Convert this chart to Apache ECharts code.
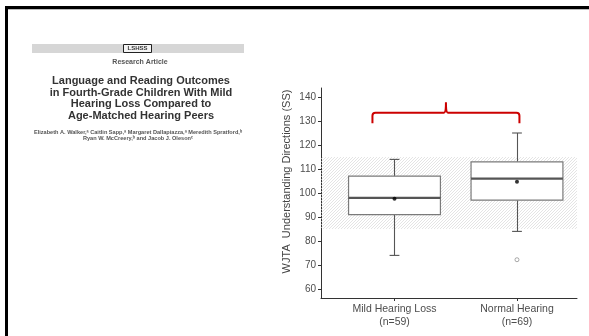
<!DOCTYPE html>
<html>
<head>
<meta charset="utf-8">
<script src="https://cdn.jsdelivr.net/npm/echarts@6/dist/echarts.min.js"></script>
<style>
html,body{margin:0;padding:0;background:#fff;}
#main{width:589px;height:336px;}
</style>
</head>
<body>
<div id="main"></div>
<script>
// ---- data ----
const groups = ['Mild Hearing Loss', 'Normal Hearing'];
const groupN = ['(n=59)', '(n=69)'];
const groupX = [1, 2];
const whiskerLow = [74, 84];
const q1 = [91, 97];
const median = [98, 106];
const q3 = [107, 113];
const whiskerHigh = [114, 125];
const means = [97.6, 104.7];
const outliersX = [2];
const outliersY = [72.2];
const bandRange = [85, 115];
const bracketX = [0.82, 1.42, 2.02];
const bracketY = [129.1, 133.4, 137.8];
const yTicks = [60, 70, 80, 90, 100, 110, 120, 130, 140];
const yTitle = 'WJTA  Understanding Directions (SS)';
const titleLines = ['Language and Reading Outcomes', 'in Fourth-Grade Children With Mild', 'Hearing Loss Compared to', 'Age-Matched Hearing Peers'];
const authorLines = ['Elizabeth A. Walker,\u1d43 Caitlin Sapp,\u1d43 Margaret Dallapiazza,\u1d43 Meredith Spratford,\u1d47', 'Ryan W. McCreery,\u1d47 and Jacob J. Oleson\u1d9c'];

// ---- hatch pattern ----
const T = 3;
const pc = document.createElement('canvas');
pc.width = T; pc.height = T;
const ctx = pc.getContext('2d');
ctx.strokeStyle = '#d9d9d9';
ctx.lineWidth = 0.7;
ctx.beginPath();
ctx.moveTo(0, T); ctx.lineTo(T, 0);
ctx.moveTo(-1, 1); ctx.lineTo(1, -1);
ctx.moveTo(T - 1, T + 1); ctx.lineTo(T + 1, T - 1);
ctx.stroke();

const XMIN = 0.4, XMAX = 2.49, YMIN = 56.25, YMAX = 143.75;
const FONT = '"Liberation Sans", Arial, sans-serif';

const boxData = groupX.map((x, i) => [x, whiskerLow[i], q1[i], median[i], q3[i], whiskerHigh[i]]);
const meanData = groupX.map((x, i) => [x, means[i]]);
const outlierData = outliersX.map((x, i) => [x, outliersY[i]]);
const labelMap = {};
groupX.forEach((x, i) => { labelMap[x] = groups[i] + '\n' + groupN[i]; });

const chart = echarts.init(document.getElementById('main'), null, {renderer: 'canvas'});

const graphics = [
  {type: 'rect', shape: {x: 5, y: 6, width: 584, height: 3}, style: {fill: '#000'}},
  {type: 'rect', shape: {x: 5, y: 9, width: 584, height: 1}, style: {fill: '#bbb'}},
  {type: 'rect', shape: {x: 5, y: 6, width: 3, height: 330}, style: {fill: '#000'}},
  {type: 'rect', shape: {x: 32, y: 44, width: 212, height: 9}, style: {fill: '#d6d6d6'}},
  {type: 'rect', shape: {x: 123.5, y: 44.5, width: 28, height: 8}, style: {fill: '#f4f4f4', stroke: '#222', lineWidth: 1}},
  {type: 'text', x: 137.5, y: 48.8, style: {text: 'LSHSS', font: 'bold 6px ' + FONT, fill: '#333', align: 'center', verticalAlign: 'middle'}},
  {type: 'text', x: 140, y: 62, style: {text: 'Research Article', font: 'bold 7px ' + FONT, fill: '#555', align: 'center', verticalAlign: 'middle'}},
  {type: 'text', x: 287, y: 181.5, rotation: Math.PI / 2,
    style: {text: yTitle, font: '11px ' + FONT, fill: '#444', align: 'center', verticalAlign: 'middle'}}
];
titleLines.forEach((t, i) => {
  graphics.push({type: 'text', x: 141, y: 81 + i * 11.7, style: {text: t, font: 'bold 11px ' + FONT, fill: '#333', align: 'center', verticalAlign: 'middle'}});
});
authorLines.forEach((t, i) => {
  graphics.push({type: 'text', x: 138, y: 132.3 + i * 6.5, style: {text: t, font: 'bold 5.6px ' + FONT, fill: '#555', align: 'center', verticalAlign: 'middle'}});
});

const option = {
  animation: false,
  backgroundColor: '#fff',
  graphic: graphics,
  grid: {left: 321, top: 88, width: 256, height: 210, containLabel: false},
  xAxis: {
    type: 'value', min: XMIN, max: XMAX,
    splitLine: {show: false},
    axisLine: {show: true, lineStyle: {color: '#333', width: 1}},
    axisTick: {show: true, length: 3, customValues: groupX, lineStyle: {color: '#333'}},
    axisLabel: {
      show: true, customValues: groupX, margin: 5,
      formatter: v => labelMap[v] || '',
      color: '#4d4d4d', fontSize: 10.5, lineHeight: 13, fontFamily: FONT
    }
  },
  yAxis: {
    type: 'value', min: YMIN, max: YMAX,
    splitLine: {show: false},
    axisLine: {show: true, lineStyle: {color: '#333', width: 1}},
    axisTick: {show: true, length: 3, customValues: yTicks, lineStyle: {color: '#333'}},
    axisLabel: {show: true, customValues: yTicks, margin: 5, color: '#4d4d4d', fontSize: 10, fontFamily: FONT}
  },
  series: [
    {
      type: 'custom', name: 'band', z: 1,
      data: [[bandRange[0], bandRange[1]]],
      renderItem: (params, api) => {
        const p0 = api.coord([XMIN, api.value(1)]);
        const p1 = api.coord([XMAX, api.value(0)]);
        return {type: 'rect', shape: {x: p0[0], y: p0[1], width: p1[0] - p0[0], height: p1[1] - p0[1]},
          style: {fill: {image: pc, repeat: 'repeat'}}};
      }
    },
    {
      type: 'custom', name: 'boxes', z: 2,
      data: boxData,
      renderItem: (params, api) => {
        const x = api.value(0);
        const lo = api.coord([x, api.value(1)]);
        const b1 = api.coord([x - 0.375, api.value(2)]);
        const md = api.coord([x - 0.375, api.value(3)]);
        const b3 = api.coord([x + 0.375, api.value(4)]);
        const hi = api.coord([x, api.value(5)]);
        const c0 = api.coord([x - 0.04, 0])[0];
        const c1 = api.coord([x + 0.04, 0])[0];
        const cx = Math.round(lo[0]) + 0.5;
        const ws = {stroke: '#555', lineWidth: 1.1};
        return {type: 'group', children: [
          {type: 'line', shape: {x1: cx, y1: hi[1], x2: cx, y2: b3[1]}, style: ws},
          {type: 'line', shape: {x1: cx, y1: b1[1], x2: cx, y2: lo[1]}, style: ws},
          {type: 'line', shape: {x1: c0, y1: hi[1], x2: c1, y2: hi[1]}, style: ws},
          {type: 'line', shape: {x1: c0, y1: lo[1], x2: c1, y2: lo[1]}, style: ws},
          {type: 'rect', shape: {x: b1[0], y: b3[1], width: b3[0] - b1[0], height: b1[1] - b3[1]},
            style: {fill: '#fff', stroke: '#7a7a7a', lineWidth: 1.2}},
          {type: 'line', shape: {x1: b1[0], y1: md[1], x2: b3[0], y2: md[1]}, style: {stroke: '#555', lineWidth: 2.2}}
        ]};
      }
    },
    {
      type: 'scatter', name: 'mean', z: 3, data: meanData,
      symbol: 'circle', symbolSize: 4, itemStyle: {color: '#000'}
    },
    {
      type: 'scatter', name: 'outlier', z: 3, data: outlierData,
      symbol: 'circle', symbolSize: 4, itemStyle: {color: '#fff', borderColor: '#777', borderWidth: 0.8}
    },
    {
      type: 'custom', name: 'bracket', z: 4,
      data: [[bracketX[0], bracketX[1], bracketX[2], bracketY[0], bracketY[1], bracketY[2]]],
      renderItem: (params, api) => {
        const l = api.coord([api.value(0), api.value(3)]);
        const m = api.coord([api.value(1), api.value(4)]);
        const t = api.coord([api.value(1), api.value(5)]);
        const r = api.coord([api.value(2), api.value(3)]);
        const rad = 3;
        const y = m[1];
        const path = 'M' + l[0] + ' ' + l[1] +
          ' L' + l[0] + ' ' + (y + rad) +
          ' Q' + l[0] + ' ' + y + ' ' + (l[0] + rad) + ' ' + y +
          ' L' + (m[0] - 2) + ' ' + y +
          ' Q' + m[0] + ' ' + y + ' ' + m[0] + ' ' + t[1] +
          ' Q' + m[0] + ' ' + y + ' ' + (m[0] + 2) + ' ' + y +
          ' L' + (r[0] - rad) + ' ' + y +
          ' Q' + r[0] + ' ' + y + ' ' + r[0] + ' ' + (y + rad) +
          ' L' + r[0] + ' ' + r[1];
        return {type: 'path', shape: {pathData: path}, style: {fill: null, stroke: '#cc0000', lineWidth: 2}};
      }
    }
  ]
};
chart.setOption(option);
</script>
</body>
</html>
